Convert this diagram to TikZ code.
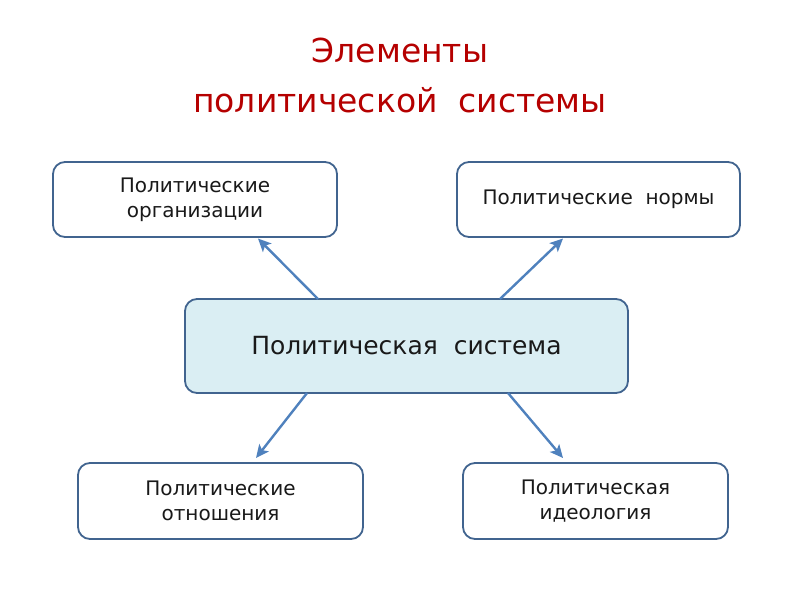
\documentclass[tikz,border=0pt]{standalone}
\usepackage{fontspec}
\setmainfont{DejaVu Sans}
\usetikzlibrary{arrows.meta}
\definecolor{titlered}{HTML}{B50000}
\definecolor{boxline}{HTML}{41648F}
\definecolor{arrowblue}{HTML}{4F81BD}
\definecolor{centerfill}{HTML}{DAEEF3}
\tikzset{
  elbox/.style={draw=boxline, line width=1.8pt, rounded corners=12pt, fill=white, text=black!90,
    align=center, font=\fontsize{20}{25}\selectfont, inner sep=0pt},
  centerbox/.style={elbox, fill=centerfill, font=\fontsize{25}{30}\selectfont},
  link/.style={draw=arrowblue, line width=2.4pt, -{Stealth[length=13pt,width=12pt,inset=3pt]}},
  titletext/.style={text=titlered, align=center, font=\fontsize{33}{50}\selectfont}
}
\begin{document}
\begin{tikzpicture}[x=1pt,y=-1pt]
\useasboundingbox (0,0) rectangle (800,600);
\node[titletext] (title) at (400,75) {Элементы\\политической\ \ системы};
\node[elbox, minimum width=284pt, minimum height=75pt] (org) at (195,199.5) {Политические\\организации};
\node[elbox, minimum width=283pt, minimum height=75pt] (norm) at (598.5,199.5) {Политические\ \ нормы};
\node[centerbox, minimum width=443pt, minimum height=94pt] (sys) at (406.5,346) {Политическая\ \ система};
\node[elbox, minimum width=285pt, minimum height=76pt] (rel) at (220.5,501) {Политические\\отношения};
\node[elbox, minimum width=265pt, minimum height=76pt] (ideo) at (595.5,501) {Политическая\\идеология};
\coordinate (s1) at (318,299);
\coordinate (s2) at (500,299);
\coordinate (s3) at (307,393);
\coordinate (s4) at (508,393);
\draw[link] (s1) -- (258,238.5) coordinate (t1);
\draw[link] (s2) -- (563,238.5) coordinate (t2);
\draw[link] (s3) -- (256,458) coordinate (t3);
\draw[link] (s4) -- (563,458) coordinate (t4);
\end{tikzpicture}
\end{document}
